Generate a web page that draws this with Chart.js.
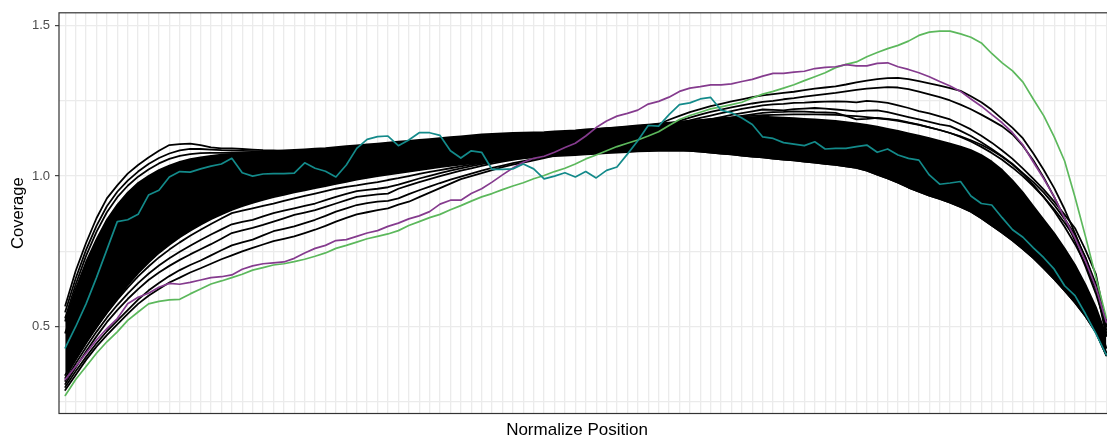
<!DOCTYPE html>
<html>
<head>
<meta charset="utf-8">
<title>Gene body coverage</title>
<script src="https://cdn.jsdelivr.net/npm/chart.js@4.4.1/dist/chart.umd.min.js"></script>
<style>
  html, body { margin: 0; padding: 0; background: #ffffff; overflow: hidden; }
  #wrap { position: relative; width: 1113px; height: 443px; }
  canvas { display: block; }
</style>
</head>
<body>
<div id="wrap"><canvas id="coverage" width="1113" height="443"></canvas></div>
<script>
// Percentile positions along the gene body (0 = 5' end, 100 = 3' end)
const positions = Array.from({ length: 101 }, (_, i) => i);

// Y axis ticks: labelled majors, unlabelled minors
const majorTicks = [0.5, 1.0, 1.5];
const minorTicks = [0.25, 0.75, 1.25];
const xTitle = 'Normalize Position';

// Highlighted samples
const tealSample = [
  0.430, 0.500, 0.576, 0.663, 0.756, 0.849, 0.855, 0.873, 0.937, 0.953, 0.997, 1.015, 1.013, 1.024, 1.033, 1.040, 1.059,
  1.011, 1.000, 1.007, 1.008, 1.008, 1.010, 1.044, 1.026, 1.016, 0.997, 1.037, 1.092, 1.122, 1.131, 1.133, 1.101, 1.120,
  1.144, 1.144, 1.135, 1.084, 1.060, 1.084, 1.079, 1.022, 1.022, 1.024, 1.040, 1.024, 0.991, 1.000, 1.011, 0.997, 1.015,
  0.994, 1.019, 1.030, 1.073, 1.117, 1.168, 1.166, 1.204, 1.237, 1.243, 1.256, 1.261, 1.219, 1.210, 1.193, 1.171, 1.130,
  1.125, 1.111, 1.106, 1.101, 1.114, 1.090, 1.092, 1.092, 1.098, 1.103, 1.079, 1.090, 1.070, 1.059, 1.053, 1.004,
  0.973, 0.977, 0.982, 0.934, 0.909, 0.904, 0.862, 0.822, 0.797, 0.762, 0.729, 0.691, 0.636, 0.603, 0.543, 0.478, 0.407
];
const purpleSample = [
  0.325, 0.368, 0.412, 0.456, 0.494, 0.527, 0.576, 0.598, 0.611, 0.631, 0.644, 0.641, 0.647, 0.655, 0.663, 0.666, 0.672,
  0.691, 0.702, 0.709, 0.712, 0.715, 0.727, 0.745, 0.760, 0.770, 0.786, 0.789, 0.800, 0.811, 0.819, 0.833, 0.844, 0.858,
  0.868, 0.882, 0.907, 0.920, 0.920, 0.942, 0.958, 0.980, 1.004, 1.027, 1.046, 1.059, 1.066, 1.079, 1.095, 1.109, 1.133,
  1.161, 1.183, 1.199, 1.208, 1.219, 1.239, 1.248, 1.262, 1.281, 1.292, 1.297, 1.303, 1.303, 1.306, 1.314, 1.321, 1.332,
  1.341, 1.341, 1.345, 1.348, 1.357, 1.361, 1.363, 1.370, 1.366, 1.366, 1.374, 1.376, 1.363, 1.354, 1.343, 1.330,
  1.314, 1.299, 1.281, 1.256, 1.232, 1.204, 1.177, 1.144, 1.103, 1.046, 0.991, 0.931, 0.860, 0.794, 0.718, 0.631, 0.516
];
const greenSample = [
  0.272, 0.325, 0.368, 0.412, 0.450, 0.483, 0.521, 0.549, 0.576, 0.584, 0.589, 0.591, 0.609, 0.625, 0.642, 0.652, 0.663,
  0.674, 0.688, 0.696, 0.705, 0.709, 0.716, 0.724, 0.734, 0.745, 0.760, 0.770, 0.781, 0.792, 0.800, 0.808, 0.819, 0.836,
  0.849, 0.862, 0.873, 0.888, 0.902, 0.917, 0.931, 0.942, 0.955, 0.967, 0.978, 0.991, 1.002, 1.015, 1.026, 1.040, 1.057,
  1.070, 1.084, 1.098, 1.109, 1.120, 1.133, 1.147, 1.168, 1.188, 1.201, 1.212, 1.223, 1.230, 1.237, 1.245, 1.259, 1.272,
  1.281, 1.292, 1.303, 1.317, 1.330, 1.343, 1.360, 1.371, 1.379, 1.396, 1.410, 1.423, 1.434, 1.448, 1.467, 1.478,
  1.481, 1.481, 1.472, 1.461, 1.442, 1.407, 1.376, 1.349, 1.312, 1.255, 1.200, 1.130, 1.050, 0.930, 0.800, 0.665, 0.530
];

// Remaining samples (all drawn in black)
const sample5a = [
  0.570, 0.685, 0.778, 0.860, 0.926, 0.969, 1.008, 1.037, 1.062, 1.084, 1.103, 1.106, 1.108, 1.103, 1.095, 1.092, 1.092,
  1.090, 1.088, 1.086, 1.085, 1.084, 1.084, 1.085, 1.086, 1.088, 1.090, 1.092, 1.094, 1.096, 1.098, 1.100, 1.102, 1.104,
  1.106, 1.108, 1.110, 1.111, 1.112, 1.113, 1.114, 1.114, 1.115, 1.115, 1.115, 1.115, 1.115, 1.114, 1.113, 1.112, 1.111,
  1.109, 1.107, 1.105, 1.103, 1.100, 1.097, 1.094, 1.091, 1.088, 1.084, 1.081, 1.078, 1.075, 1.072, 1.068, 1.065, 1.062,
  1.058, 1.055, 1.052, 1.048, 1.045, 1.041, 1.037, 1.032, 1.027, 1.018, 1.005, 0.992, 0.978, 0.962, 0.948, 0.935,
  0.924, 0.912, 0.898, 0.882, 0.860, 0.836, 0.812, 0.786, 0.758, 0.728, 0.694, 0.658, 0.620, 0.580, 0.535, 0.482, 0.405
];
const sample5b = [
  0.550, 0.660, 0.755, 0.835, 0.900, 0.948, 0.985, 1.015, 1.040, 1.060, 1.075, 1.085, 1.090, 1.090, 1.088, 1.086, 1.085,
  1.084, 1.083, 1.082, 1.081, 1.080, 1.080, 1.081, 1.082, 1.083, 1.085, 1.087, 1.089, 1.091, 1.093, 1.095, 1.097, 1.099,
  1.101, 1.103, 1.105, 1.107, 1.108, 1.109, 1.110, 1.111, 1.112, 1.113, 1.113, 1.114, 1.114, 1.114, 1.114, 1.113, 1.113,
  1.112, 1.111, 1.110, 1.109, 1.107, 1.105, 1.103, 1.101, 1.099, 1.097, 1.094, 1.091, 1.088, 1.085, 1.082, 1.079, 1.076,
  1.073, 1.070, 1.066, 1.063, 1.059, 1.055, 1.051, 1.046, 1.041, 1.034, 1.026, 1.016, 1.004, 0.990, 0.975, 0.960,
  0.948, 0.935, 0.922, 0.906, 0.888, 0.866, 0.842, 0.816, 0.789, 0.760, 0.728, 0.692, 0.652, 0.606, 0.555, 0.497, 0.415
];
const sample5c = [
  0.530, 0.640, 0.735, 0.815, 0.880, 0.930, 0.968, 0.998, 1.022, 1.042, 1.057, 1.067, 1.073, 1.076, 1.077, 1.077, 1.077,
  1.077, 1.077, 1.077, 1.077, 1.077, 1.078, 1.079, 1.080, 1.082, 1.084, 1.086, 1.088, 1.090, 1.092, 1.094, 1.096, 1.098,
  1.100, 1.102, 1.104, 1.106, 1.108, 1.110, 1.112, 1.114, 1.116, 1.118, 1.120, 1.122, 1.124, 1.125, 1.126, 1.127, 1.128,
  1.129, 1.130, 1.130, 1.130, 1.130, 1.130, 1.129, 1.128, 1.127, 1.125, 1.123, 1.121, 1.119, 1.116, 1.113, 1.110, 1.107,
  1.104, 1.100, 1.096, 1.092, 1.088, 1.084, 1.079, 1.074, 1.068, 1.062, 1.055, 1.047, 1.038, 1.028, 1.017, 1.005,
  0.992, 0.978, 0.963, 0.947, 0.930, 0.911, 0.890, 0.867, 0.842, 0.814, 0.783, 0.748, 0.708, 0.662, 0.608, 0.540, 0.430
];
const sample3a = [
  0.290, 0.340, 0.390, 0.434, 0.472, 0.508, 0.543, 0.576, 0.603, 0.625, 0.647, 0.663, 0.680, 0.694, 0.709, 0.724, 0.737,
  0.750, 0.762, 0.773, 0.784, 0.792, 0.800, 0.811, 0.822, 0.835, 0.849, 0.861, 0.873, 0.880, 0.887, 0.893, 0.905, 0.915,
  0.930, 0.945, 0.960, 0.975, 0.990, 1.000, 1.010, 1.020, 1.030, 1.038, 1.045, 1.052, 1.060, 1.068, 1.076, 1.084, 1.092,
  1.102, 1.112, 1.122, 1.133, 1.145, 1.158, 1.172, 1.187, 1.200, 1.212, 1.222, 1.232, 1.240, 1.248, 1.255, 1.262, 1.268,
  1.272, 1.276, 1.280, 1.285, 1.290, 1.294, 1.298, 1.304, 1.311, 1.317, 1.322, 1.325, 1.326, 1.322, 1.315, 1.308,
  1.300, 1.292, 1.283, 1.265, 1.245, 1.220, 1.190, 1.160, 1.125, 1.075, 1.020, 0.960, 0.890, 0.810, 0.725, 0.635, 0.520
];
const sample3b = [
  0.300, 0.352, 0.400, 0.445, 0.485, 0.520, 0.555, 0.590, 0.620, 0.645, 0.668, 0.688, 0.705, 0.720, 0.737, 0.754, 0.770,
  0.780, 0.789, 0.803, 0.817, 0.825, 0.833, 0.844, 0.855, 0.868, 0.882, 0.893, 0.904, 0.910, 0.915, 0.918, 0.926, 0.940,
  0.953, 0.965, 0.977, 0.988, 0.998, 1.008, 1.018, 1.027, 1.035, 1.043, 1.050, 1.057, 1.064, 1.071, 1.078, 1.086, 1.094,
  1.103, 1.112, 1.121, 1.130, 1.140, 1.150, 1.161, 1.172, 1.183, 1.194, 1.204, 1.213, 1.221, 1.228, 1.235, 1.241, 1.246,
  1.250, 1.255, 1.259, 1.264, 1.268, 1.272, 1.276, 1.281, 1.286, 1.290, 1.293, 1.295, 1.294, 1.289, 1.280, 1.271,
  1.262, 1.251, 1.237, 1.222, 1.204, 1.185, 1.165, 1.138, 1.100, 1.052, 0.995, 0.930, 0.860, 0.785, 0.700, 0.610, 0.500
];
const sample3c = [
  0.310, 0.365, 0.418, 0.468, 0.515, 0.555, 0.592, 0.625, 0.655, 0.680, 0.702, 0.722, 0.740, 0.757, 0.774, 0.792, 0.811,
  0.820, 0.828, 0.838, 0.849, 0.860, 0.871, 0.879, 0.887, 0.898, 0.909, 0.920, 0.931, 0.935, 0.939, 0.942, 0.958, 0.969,
  0.980, 0.990, 1.000, 1.009, 1.018, 1.026, 1.034, 1.041, 1.048, 1.054, 1.060, 1.066, 1.072, 1.078, 1.085, 1.092, 1.099,
  1.106, 1.114, 1.122, 1.131, 1.140, 1.149, 1.158, 1.167, 1.176, 1.185, 1.193, 1.201, 1.209, 1.216, 1.223, 1.229, 1.235,
  1.238, 1.240, 1.243, 1.244, 1.246, 1.247, 1.248, 1.247, 1.245, 1.250, 1.247, 1.243, 1.235, 1.226, 1.216, 1.208,
  1.198, 1.188, 1.172, 1.155, 1.134, 1.111, 1.085, 1.057, 1.025, 0.991, 0.955, 0.915, 0.872, 0.827, 0.755, 0.675, 0.505
];
const sample3d = [
  0.320, 0.378, 0.432, 0.483, 0.530, 0.572, 0.610, 0.645, 0.676, 0.703, 0.727, 0.749, 0.769, 0.788, 0.806, 0.823, 0.840,
  0.848, 0.855, 0.866, 0.877, 0.885, 0.893, 0.901, 0.909, 0.920, 0.931, 0.941, 0.950, 0.954, 0.958, 0.963, 0.972, 0.982,
  0.992, 1.001, 1.010, 1.018, 1.026, 1.033, 1.040, 1.046, 1.052, 1.058, 1.063, 1.068, 1.074, 1.080, 1.086, 1.092, 1.099,
  1.105, 1.112, 1.119, 1.127, 1.135, 1.143, 1.151, 1.159, 1.167, 1.175, 1.182, 1.189, 1.196, 1.203, 1.209, 1.215, 1.221,
  1.220, 1.218, 1.222, 1.224, 1.226, 1.224, 1.221, 1.218, 1.215, 1.217, 1.218, 1.212, 1.204, 1.196, 1.188, 1.180,
  1.172, 1.166, 1.150, 1.133, 1.112, 1.090, 1.066, 1.040, 1.010, 0.980, 0.945, 0.904, 0.858, 0.805, 0.730, 0.642, 0.480
];
const sample3e = [
  0.330, 0.390, 0.446, 0.498, 0.546, 0.590, 0.630, 0.667, 0.700, 0.730, 0.756, 0.780, 0.802, 0.822, 0.841, 0.859, 0.877,
  0.885, 0.893, 0.901, 0.909, 0.918, 0.926, 0.934, 0.942, 0.950, 0.958, 0.964, 0.969, 0.975, 0.980, 0.987, 0.993, 1.000,
  1.007, 1.014, 1.020, 1.026, 1.032, 1.038, 1.044, 1.049, 1.054, 1.059, 1.064, 1.069, 1.075, 1.081, 1.087, 1.093, 1.100,
  1.106, 1.113, 1.120, 1.127, 1.134, 1.141, 1.148, 1.155, 1.162, 1.169, 1.176, 1.182, 1.188, 1.194, 1.200, 1.205, 1.210,
  1.212, 1.213, 1.215, 1.214, 1.212, 1.211, 1.210, 1.200, 1.188, 1.190, 1.193, 1.190, 1.186, 1.178, 1.171, 1.162,
  1.153, 1.143, 1.130, 1.115, 1.097, 1.077, 1.054, 1.028, 0.999, 0.966, 0.930, 0.890, 0.845, 0.795, 0.730, 0.635, 0.470
];
const sampleMid = [
  0.480, 0.575, 0.660, 0.735, 0.800, 0.852, 0.895, 0.930, 0.958, 0.980, 0.998, 1.012, 1.023, 1.032, 1.039, 1.045, 1.050,
  1.054, 1.057, 1.060, 1.063, 1.066, 1.069, 1.072, 1.075, 1.078, 1.081, 1.084, 1.087, 1.090, 1.093, 1.096, 1.099, 1.102,
  1.105, 1.108, 1.111, 1.114, 1.117, 1.120, 1.123, 1.126, 1.129, 1.132, 1.135, 1.138, 1.141, 1.144, 1.147, 1.150, 1.153,
  1.156, 1.159, 1.162, 1.165, 1.168, 1.171, 1.174, 1.177, 1.180, 1.183, 1.186, 1.189, 1.192, 1.195, 1.198, 1.200, 1.202,
  1.203, 1.204, 1.205, 1.205, 1.205, 1.204, 1.203, 1.201, 1.199, 1.196, 1.192, 1.188, 1.183, 1.177, 1.170, 1.162,
  1.153, 1.143, 1.132, 1.119, 1.104, 1.086, 1.064, 1.038, 1.007, 0.971, 0.930, 0.884, 0.832, 0.774, 0.708, 0.625, 0.490
];

// Upper and lower edge of the tightly packed bulk of samples
const bulkUpper = [
  0.520, 0.625, 0.715, 0.790, 0.855, 0.905, 0.945, 0.977, 1.000, 1.020, 1.035, 1.047, 1.056, 1.062, 1.067, 1.071, 1.074,
  1.077, 1.079, 1.081, 1.083, 1.085, 1.087, 1.089, 1.091, 1.093, 1.096, 1.099, 1.102, 1.105, 1.108, 1.111, 1.114, 1.117,
  1.120, 1.123, 1.126, 1.129, 1.132, 1.135, 1.138, 1.140, 1.142, 1.143, 1.144, 1.145, 1.146, 1.148, 1.150, 1.152, 1.155,
  1.157, 1.159, 1.161, 1.163, 1.166, 1.169, 1.172, 1.176, 1.180, 1.183, 1.186, 1.189, 1.191, 1.193, 1.195, 1.196, 1.197,
  1.196, 1.194, 1.192, 1.190, 1.188, 1.186, 1.183, 1.179, 1.175, 1.170, 1.164, 1.157, 1.150, 1.142, 1.134, 1.126,
  1.117, 1.108, 1.098, 1.086, 1.070, 1.048, 1.020, 0.985, 0.945, 0.900, 0.855, 0.810, 0.760, 0.705, 0.640, 0.565, 0.470
];
const bulkLower = [
  0.340, 0.392, 0.447, 0.498, 0.548, 0.595, 0.638, 0.678, 0.713, 0.745, 0.772, 0.797, 0.819, 0.839, 0.857, 0.873, 0.888,
  0.900, 0.911, 0.921, 0.930, 0.938, 0.946, 0.953, 0.960, 0.967, 0.974, 0.981, 0.988, 0.994, 1.000, 1.005, 1.010, 1.015,
  1.020, 1.025, 1.030, 1.034, 1.038, 1.042, 1.046, 1.050, 1.053, 1.056, 1.059, 1.062, 1.064, 1.066, 1.068, 1.070, 1.072,
  1.074, 1.076, 1.078, 1.080, 1.082, 1.083, 1.084, 1.084, 1.084, 1.084, 1.081, 1.078, 1.075, 1.072, 1.068, 1.065, 1.062,
  1.058, 1.055, 1.052, 1.048, 1.045, 1.041, 1.037, 1.032, 1.027, 1.018, 1.005, 0.992, 0.978, 0.962, 0.948, 0.935,
  0.924, 0.912, 0.898, 0.882, 0.860, 0.836, 0.812, 0.786, 0.758, 0.728, 0.694, 0.658, 0.620, 0.580, 0.535, 0.482, 0.405
];

const highlighted = [
  { label: 'teal', data: tealSample, color: '#138a8a' },
  { label: 'purple', data: purpleSample, color: '#853b8e' },
  { label: 'green', data: greenSample, color: '#5cb85c' }
];
const blackSamples = [sample5a, sample5b, sample5c, sample3a, sample3b, sample3c, sample3d, sample3e, sampleMid];

const LINE_W = 1.8;
const datasets = [];
highlighted.forEach(s => datasets.push({
  label: s.label, data: s.data, borderColor: s.color, borderWidth: 1.7, fill: false
}));
blackSamples.forEach((d, i) => datasets.push({
  label: 'sample ' + (i + 1), data: d, borderColor: '#000000', borderWidth: LINE_W, fill: false
}));
// bulk band: lower edge, then upper edge filled down to it
datasets.push({ label: 'bulk lower', data: bulkLower, borderColor: '#000000', borderWidth: LINE_W, fill: false });
datasets.push({ label: 'bulk upper', data: bulkUpper, borderColor: '#000000', borderWidth: LINE_W,
  backgroundColor: '#000000', fill: '-1' });

// Panel border drawn over the data, plus the x axis title under the panel
const panelFrame = {
  id: 'panelFrame',
  afterDatasetsDraw(chart) {
    const { ctx, chartArea: a } = chart;
    ctx.save();
    ctx.strokeStyle = '#333333';
    ctx.lineWidth = 1.2;
    ctx.strokeRect(a.left, a.top, a.right - a.left, a.bottom - a.top);
    ctx.restore();
  },
  afterDraw(chart) {
    const { ctx } = chart;
    ctx.save();
    ctx.fillStyle = '#000000';
    ctx.font = "17px 'Liberation Sans', Arial, Helvetica, sans-serif";
    ctx.textAlign = 'center';
    ctx.textBaseline = 'middle';
    ctx.fillText(xTitle, 577, 430);
    ctx.restore();
  }
};

Chart.defaults.font.family = "'Liberation Sans', Arial, Helvetica, sans-serif";

new Chart(document.getElementById('coverage'), {
  type: 'line',
  data: { labels: positions, datasets },
  options: {
    responsive: false,
    devicePixelRatio: 1,
    animation: false,
    events: [],
    layout: { padding: { top: 9, right: 0.5, bottom: 0, left: 0 } },
    plugins: { legend: { display: false }, tooltip: { enabled: false } },
    elements: {
      point: { radius: 0 },
      line: { tension: 0, borderJoinStyle: 'round', borderCapStyle: 'round' }
    },
    scales: {
      x: {
        type: 'linear', min: -0.6, max: 100.6, bounds: 'data',
        afterBuildTicks: (s) => { s.ticks = positions.map(v => ({ value: v })); },
        afterFit: (s) => { s.height = 29.5; },
        ticks: { display: false },
        grid: { color: '#EBEBEB', lineWidth: 1.3, drawTicks: false },
        border: { display: false },
        title: { display: false }
      },
      y: {
        type: 'linear', min: 0.212, max: 1.542, bounds: 'data',
        afterBuildTicks: (s) => {
          s.ticks = minorTicks.concat(majorTicks).sort((a, b) => a - b).map(v => ({ value: v }));
        },
        afterFit: (s) => { s.width = 59; },
        ticks: {
          color: '#4D4D4D', font: { size: 13 }, padding: 5, autoSkip: false,
          callback: (v) => majorTicks.includes(v) ? v.toFixed(1) : ''
        },
        grid: {
          color: '#EBEBEB', lineWidth: 1.3, tickLength: 4, tickWidth: 1.1,
          tickColor: (c) => (c.tick && majorTicks.includes(c.tick.value)) ? '#333333' : 'rgba(0,0,0,0)'
        },
        border: { display: false },
        title: {
          display: true, text: 'Coverage', color: '#000000',
          font: { size: 16.5 }, padding: { top: 8.6, bottom: 0 }
        }
      }
    }
  },
  plugins: [panelFrame]
});
</script>
</body>
</html>
